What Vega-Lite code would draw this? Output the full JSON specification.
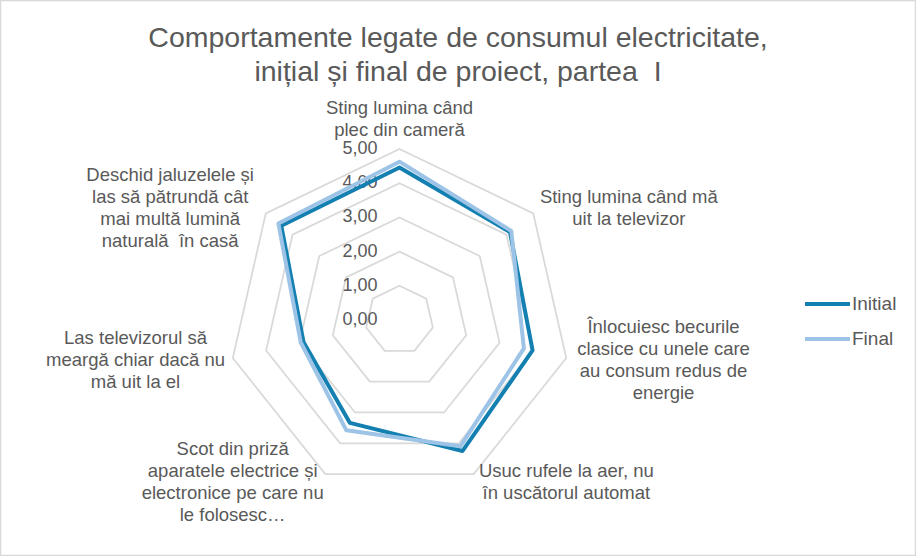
{
  "$schema": "https://vega.github.io/schema/vega-lite/v6.json",
  "autosize": "none",
  "padding": 0,
  "width": 916,
  "height": 556,
  "background": "white",
  "title": {
    "text": ["Comportamente legate de consumul electricitate,", "inițial și final de proiect, partea \u00a0I"],
    "anchor": "middle",
    "font": "Liberation Sans",
    "fontSize": 28.5,
    "fontWeight": "normal",
    "color": "#595959",
    "lineHeight": 34,
    "offset": -86
  },
  "datasets": {
    "items": [
      {"k": 0, "label": "Sting lumina când\nplec din cameră", "Initial": 4.46, "Final": 4.63},
      {"k": 1, "label": "Sting lumina când mă\nuit la televizor", "Initial": 4.13, "Final": 4.18},
      {"k": 2, "label": "Înlocuiesc becurile\nclasice cu unele care\nau consum redus de\nenergie", "Initial": 3.99, "Final": 3.73},
      {"k": 3, "label": "Usuc rufele la aer, nu\nîn uscătorul automat", "Initial": 4.25, "Final": 4.1},
      {"k": 4, "label": "Scot din priză\naparatele electrice și\nelectronice pe care nu\nle folosesc…", "Initial": 3.34, "Final": 3.58},
      {"k": 5, "label": "Las televizorul să\nmeargă chiar dacă nu\nmă uit la el", "Initial": 2.88, "Final": 2.96},
      {"k": 6, "label": "Deschid jaluzelele și\nlas să pătrundă cât\nmai multă lumină\nnaturală \u00a0în casă", "Initial": 4.42, "Final": 4.53}
    ],
    "grid": [
      {"level": 1, "k": 0}, {"level": 1, "k": 1}, {"level": 1, "k": 2}, {"level": 1, "k": 3}, {"level": 1, "k": 4}, {"level": 1, "k": 5}, {"level": 1, "k": 6},
      {"level": 2, "k": 0}, {"level": 2, "k": 1}, {"level": 2, "k": 2}, {"level": 2, "k": 3}, {"level": 2, "k": 4}, {"level": 2, "k": 5}, {"level": 2, "k": 6},
      {"level": 3, "k": 0}, {"level": 3, "k": 1}, {"level": 3, "k": 2}, {"level": 3, "k": 3}, {"level": 3, "k": 4}, {"level": 3, "k": 5}, {"level": 3, "k": 6},
      {"level": 4, "k": 0}, {"level": 4, "k": 1}, {"level": 4, "k": 2}, {"level": 4, "k": 3}, {"level": 4, "k": 4}, {"level": 4, "k": 5}, {"level": 4, "k": 6},
      {"level": 5, "k": 0}, {"level": 5, "k": 1}, {"level": 5, "k": 2}, {"level": 5, "k": 3}, {"level": 5, "k": 4}, {"level": 5, "k": 5}, {"level": 5, "k": 6}
    ],
    "levels": [
      {"level": 0, "text": "0,00"},
      {"level": 1, "text": "1,00"},
      {"level": 2, "text": "2,00"},
      {"level": 3, "text": "3,00"},
      {"level": 4, "text": "4,00"},
      {"level": 5, "text": "5,00"}
    ]
  },
  "layer": [
    {
      "data": {"name": "grid"},
      "transform": [
        {"calculate": "datum.level * sin(2 * PI * datum.k / 7)", "as": "x"},
        {"calculate": "datum.level * cos(2 * PI * datum.k / 7)", "as": "y"}
      ],
      "mark": {"type": "line", "interpolate": "linear-closed", "color": "#d9d9d9", "strokeWidth": 1.75},
      "encoding": {
        "x": {"field": "x", "type": "quantitative", "scale": {"domain": [-11.68, 15.1], "nice": false, "zero": false}, "axis": null},
        "y": {"field": "y", "type": "quantitative", "scale": {"domain": [-6.9, 9.357], "nice": false, "zero": false}, "axis": null},
        "detail": {"field": "level", "type": "nominal"},
        "order": {"field": "k", "type": "quantitative"}
      }
    },
    {
      "data": {"name": "levels"},
      "mark": {"type": "text", "align": "right", "baseline": "middle", "dx": -22, "font": "Liberation Sans", "fontSize": 18, "color": "#595959"},
      "encoding": {
        "x": {"datum": 0, "type": "quantitative"},
        "y": {"field": "level", "type": "quantitative"},
        "text": {"field": "text", "type": "nominal"}
      }
    },
    {
      "data": {"name": "items"},
      "transform": [
        {"fold": ["Initial", "Final"], "as": ["series", "value"]},
        {"calculate": "datum.value * sin(2 * PI * datum.k / 7)", "as": "x"},
        {"calculate": "datum.value * cos(2 * PI * datum.k / 7)", "as": "y"}
      ],
      "mark": {"type": "line", "interpolate": "linear-closed", "strokeWidth": 4, "strokeJoin": "round"},
      "encoding": {
        "x": {"field": "x", "type": "quantitative"},
        "y": {"field": "y", "type": "quantitative"},
        "color": {
          "field": "series",
          "type": "nominal",
          "scale": {"domain": ["Initial", "Final"], "range": ["#1380b1", "#9dc3e6"]},
          "legend": {
            "title": null,
            "orient": "none",
            "legendX": 803,
            "legendY": 279.5,
            "padding": 0,
            "symbolType": "stroke",
            "symbolSize": 2025,
            "symbolStrokeWidth": 4,
            "rowPadding": -7,
            "labelOffset": 0,
            "labelFont": "Liberation Sans",
            "labelFontSize": 19,
            "labelColor": "#595959"
          }
        },
        "order": {"field": "k", "type": "quantitative"}
      }
    },
    {
      "data": {"name": "items"},
      "transform": [
        {"calculate": "5.25 * sin(2 * PI * datum.k / 7) + (datum.k == 0 ? 0 : (datum.k < 4 ? 2.6 : -2.6))", "as": "lx"},
        {"calculate": "5.25 * cos(2 * PI * datum.k / 7) + (datum.k == 0 ? 0.64 : 0) + (length(split(datum.label, '\\n')) - 1) * 0.3216", "as": "ly"}
      ],
      "mark": {"type": "text", "align": "center", "baseline": "middle", "lineBreak": "\n", "lineHeight": 22, "font": "Liberation Sans", "fontSize": 18.5, "color": "#595959"},
      "encoding": {
        "x": {"field": "lx", "type": "quantitative"},
        "y": {"field": "ly", "type": "quantitative"},
        "text": {"field": "label", "type": "nominal"}
      }
    }
  ],
  "config": {
    "view": {"stroke": "#d9d9d9", "strokeWidth": 2.5}
  }
}
